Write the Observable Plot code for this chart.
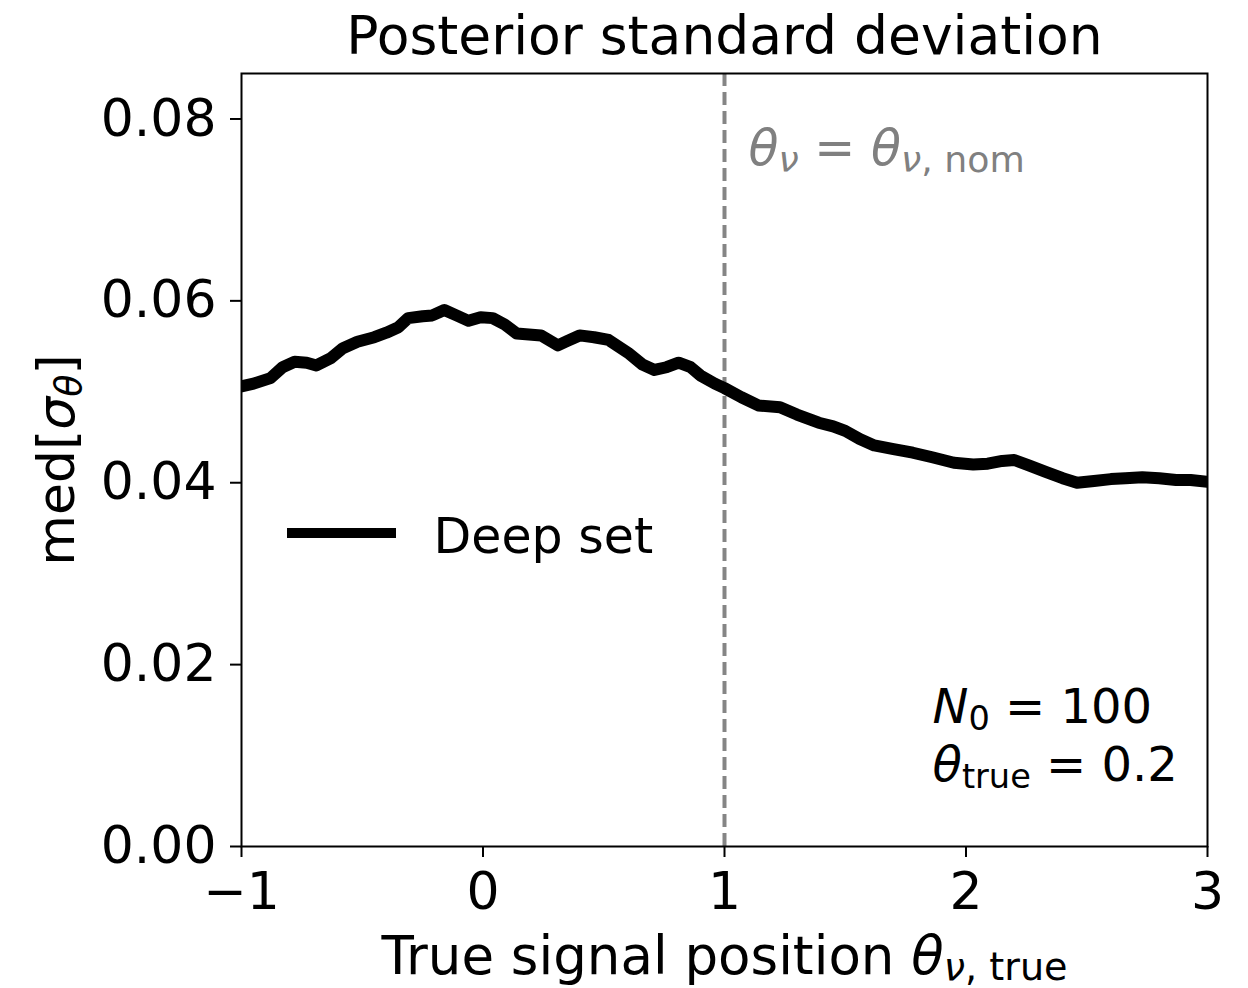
<!DOCTYPE html>
<html>
<head>
<meta charset="utf-8">
<script src="https://cdn.jsdelivr.net/npm/d3@7"></script>
<script src="https://cdn.jsdelivr.net/npm/@observablehq/plot@0.6"></script>
<style>
  html, body { margin: 0; padding: 0; background: white; }
  svg text { font-family: "DejaVu Sans", sans-serif; }
</style>
</head>
<body>
<div id="chart"></div>
<script>
// ---- data ----
const thetaTrue = [-1.00,-0.95,-0.88,-0.83,-0.78,-0.73,-0.69,-0.63,-0.58,-0.52,-0.45,-0.40,-0.35,-0.31,-0.25,-0.21,-0.16,-0.11,-0.06,-0.01,0.04,0.09,0.14,0.19,0.24,0.31,0.35,0.40,0.46,0.52,0.60,0.66,0.71,0.76,0.81,0.86,0.90,0.96,1.00,1.07,1.14,1.23,1.30,1.39,1.45,1.50,1.56,1.62,1.70,1.78,1.86,1.95,2.03,2.09,2.15,2.20,2.26,2.33,2.40,2.46,2.53,2.60,2.66,2.73,2.80,2.87,2.93,3.00];
const medSigma = [0.0506,0.0509,0.0515,0.0527,0.0533,0.0532,0.0529,0.0537,0.0548,0.0555,0.0560,0.0565,0.0571,0.0581,0.0583,0.0584,0.0590,0.0584,0.0578,0.0582,0.0581,0.0574,0.0564,0.0563,0.0562,0.0551,0.0556,0.0562,0.0560,0.0557,0.0543,0.0530,0.0524,0.0527,0.0532,0.0527,0.0518,0.0509,0.0504,0.0494,0.0485,0.0483,0.0475,0.0466,0.0462,0.0457,0.0448,0.0441,0.0437,0.0433,0.0428,0.0422,0.0420,0.0421,0.0424,0.0425,0.0419,0.0412,0.0405,0.0400,0.0402,0.0404,0.0405,0.0406,0.0405,0.0403,0.0403,0.0401];
const nominalTheta = [1];
const xTicks = [-1, 0, 1, 2, 3];
const yTicks = [0, 0.02, 0.04, 0.06, 0.08];
const titleText = "Posterior standard deviation";
const xLabel = "True signal position θν, true";
const yLabel = "med[σθ]";
const nomLabel = "θν = θν, nom";
const infoLines = ["N0 = 100", "θtrue = 0.2"];
const legendLabel = "Deep set";

const data = thetaTrue.map((x, i) => ({x, y: medSigma[i]}));

const plot = Plot.plot({
  width: 1248,
  height: 988,
  marginLeft: 241,
  marginRight: 41,
  marginTop: 73,
  marginBottom: 142,
  style: {fontFamily: "DejaVu Sans", fontSize: "52px", background: "white", color: "black"},
  x: {domain: [-1, 3]},
  y: {domain: [0, 0.085]},
  marks: [
    Plot.ruleX(nominalTheta, {stroke: "#858585", strokeWidth: 4, strokeDasharray: "13,6"}),
    Plot.line(data, {x: "x", y: "y", stroke: "black", strokeWidth: 12, strokeLinejoin: "round", clip: true}),
    Plot.frame({stroke: "black", strokeWidth: 2}),
    Plot.axisX({ticks: xTicks, tickFormat: d => d < 0 ? "\u2212" + Math.abs(d) : String(d), tickSize: 11, tickPadding: 15, strokeWidth: 2, label: null, fontSize: 52}),
    Plot.axisY({ticks: yTicks, tickFormat: d3.format(".2f"), tickSize: 11, tickPadding: 14, strokeWidth: 2, label: null, fontSize: 52}),
    Plot.text([titleText], {frameAnchor: "top", dy: -20, lineAnchor: "bottom", fontSize: 53.5, fill: "black"}),
    Plot.text([xLabel], {frameAnchor: "bottom", dy: 127, lineAnchor: "bottom", fontSize: 53, fill: "black"}),
    Plot.text([yLabel], {frameAnchor: "left", dx: -168, dy: 0, rotate: -90, lineAnchor: "bottom", textAnchor: "middle", fontSize: 52, fill: "black"}),
    Plot.text([nomLabel], {frameAnchor: "top-left", dx: 507, dy: 91, lineAnchor: "bottom", textAnchor: "start", fontSize: 49, fill: "#808080"}),
    Plot.text([infoLines[0]], {frameAnchor: "bottom-left", dx: 691, dy: -124, lineAnchor: "bottom", textAnchor: "start", fontSize: 48, fill: "black"}),
    Plot.text([infoLines[1]], {frameAnchor: "bottom-left", dx: 691, dy: -66, lineAnchor: "bottom", textAnchor: "start", fontSize: 48, fill: "black"}),
    Plot.text([legendLabel], {frameAnchor: "top-left", dx: 192, dy: 479, lineAnchor: "bottom", textAnchor: "start", fontSize: 49, fill: "black"})
  ]
});

document.getElementById("chart").appendChild(plot);

// ---- rich text (italic symbols, subscripts) ----
const svg = d3.select(plot);
function rich(plain, parts, shift, size) {
  svg.selectAll("text").filter(function() { return this.textContent === plain; }).each(function() {
    const el = d3.select(this);
    el.text(null);
    let sub = false;
    parts.forEach(([t, flags]) => {
      const isSub = flags.includes("s");
      const ts = el.append("tspan").text(t);
      if (flags.includes("i")) ts.attr("font-style", "italic");
      if (isSub) ts.attr("font-size", (size * 100) + "%");
      if (isSub && !sub) ts.attr("dy", (shift / size) + "em");
      if (!isSub && sub) ts.attr("dy", (-shift) + "em");
      sub = isSub;
    });
  });
}
rich(xLabel, [["True signal position ", ""], ["θ", "i"], ["ν", "is"], [", true", "s"]], 0.13, 0.72);
rich(yLabel, [["med[", ""], ["σ", "i"], ["θ", "is"], ["]", ""]], 0.15, 0.7);
rich(nomLabel, [["θ", "i"], ["ν", "is"], [" = ", ""], ["θ", "i"], ["ν", "is"], [", nom", "s"]], 0.15, 0.74);
rich(infoLines[0], [["N", "i"], ["0", "s"], [" = 100", ""]], 0.15, 0.7);
rich(infoLines[1], [["θ", "i"], ["true", "s"], [" = 0.2", ""]], 0.15, 0.7);

// ---- legend swatch ----
svg.append("line")
  .attr("x1", 287).attr("x2", 396)
  .attr("y1", 533).attr("y2", 533)
  .attr("stroke", "black").attr("stroke-width", 10);
</script>
</body>
</html>
